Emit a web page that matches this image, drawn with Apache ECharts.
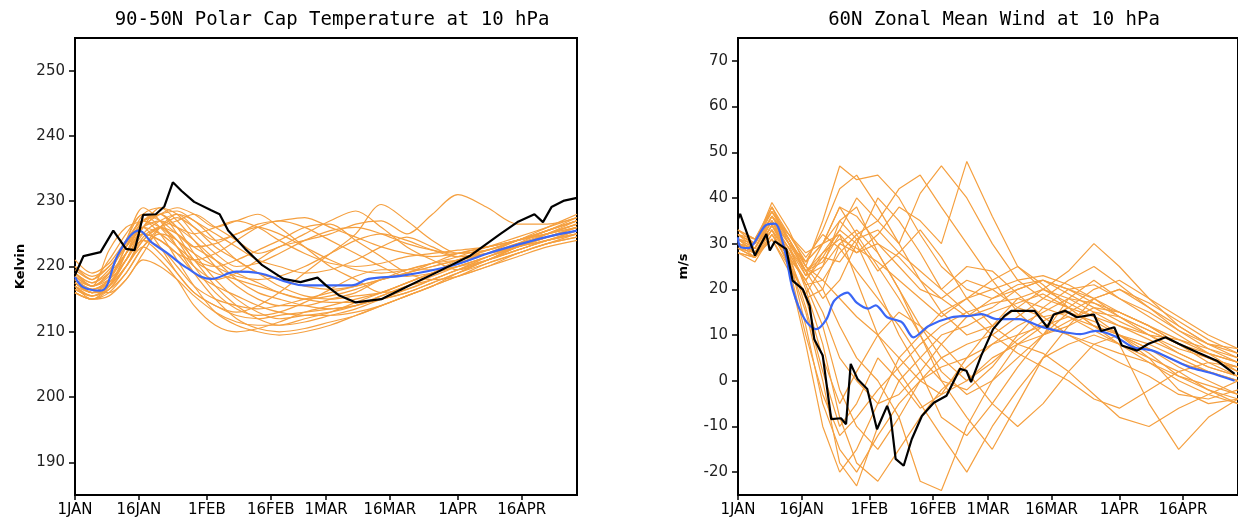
<!DOCTYPE html>
<html>
<head>
<meta charset="utf-8">
<script src="https://cdn.jsdelivr.net/npm/echarts@6/dist/echarts.min.js"></script>
<style>
  html, body { margin: 0; padding: 0; background: #fff; }
  #chart { width: 1238px; height: 527px; }
</style>
</head>
<body>
<div id="chart"></div>
<script>
// x axis: day of year starting at 1 JAN = 0
const dayTicks = [0, 15, 31, 46, 59, 74, 90, 105];
const dayTickLabels = ['1JAN', '16JAN', '1FEB', '16FEB', '1MAR', '16MAR', '1APR', '16APR'];
const tempTicks = [190, 200, 210, 220, 230, 240, 250];
const windTicks = [-20, -10, 0, 10, 20, 30, 40, 50, 60, 70];

// ensemble member sampling days (shared by both panels)
const memberDays = [0, 4, 8, 12, 16, 20, 24, 28, 33, 38, 43, 48, 54, 60, 66, 72, 78, 84, 90, 97, 104, 111, 118];

// 90-50N polar cap temperature, members (K)
const tempMembers = [
  [218, 216.5, 218, 223, 228, 229, 227, 224, 220, 217, 215, 214, 214, 215, 216, 218, 219, 220, 221, 222, 224, 225, 226.5],
  [217, 215.5, 217, 222, 227, 228, 226, 222, 218, 215, 213, 212, 212.5, 213, 214, 215.5, 217, 218, 219.5, 221, 222.5, 224, 225],
  [219, 217, 219, 224, 229, 227, 223, 219, 215, 212, 210.5, 210, 210.5, 211.5, 212.5, 214, 215.5, 217, 218.5, 220, 222, 223.5, 224.5],
  [216, 215, 216.5, 220, 224, 226, 227, 228, 226, 224, 222, 223, 225, 227, 228.5, 226, 223, 221, 219.5, 221, 223, 225, 227],
  [218.5, 217, 218, 221, 226, 228, 229, 228, 226, 227, 228, 226, 223, 220, 218, 216, 216.5, 218, 219.5, 221.5, 223.5, 225.5, 227],
  [217.5, 216, 217, 222, 226, 223, 219, 216, 214, 213, 214, 216, 219, 222, 225, 229.5, 227, 224, 222, 222.5, 224, 226, 228],
  [220, 218, 221, 225, 228, 226, 223, 220, 218, 219, 221, 223, 224, 225, 226.5, 227, 225, 228, 231, 229, 226.5, 226.5, 227.5],
  [216, 215, 216, 219, 223, 225, 224, 221, 217, 214, 212, 211, 211.5, 212.5, 213.5, 215, 216.5, 218, 219.5, 221, 223, 224.5, 226],
  [218, 216, 218, 223, 227, 228, 225, 221, 219, 218, 217, 216, 215, 214.5, 214.5, 215, 216, 217.5, 219, 220.5, 222, 223.5, 225],
  [219, 217.5, 219, 222, 225, 224, 222, 221, 222, 224, 226, 227, 226, 224, 222, 220, 218.5, 219, 220, 221.5, 223, 224.5, 226],
  [217, 216, 216, 218, 222, 226, 228, 227, 224, 221, 219, 217, 215.5, 215, 215.5, 216, 217.5, 219, 221, 222.5, 224, 225.5, 227],
  [221, 219, 220.5, 224, 227, 225, 221, 217, 213, 211, 210, 209.5, 210, 211, 212.5, 214, 215.5, 217, 219, 221, 223, 224, 225.5],
  [218, 216.5, 217.5, 221, 224, 222, 219, 216, 214, 212.5, 212, 212.5, 213, 213.5, 214, 215, 216, 217.5, 219, 221, 222.5, 224, 225],
  [217, 215, 217, 221, 225, 227, 228, 226, 223, 221, 219, 218, 217, 216.5, 217, 218, 219, 220, 221, 222.5, 224, 225.5, 227.5],
  [219.5, 218, 220, 223, 226, 225, 223, 221, 220, 221, 222.5, 224, 226, 226.5, 224, 221.5, 219, 218, 218.5, 220, 221.5, 223, 224],
  [216.5, 215.5, 217, 220, 223, 221, 218, 214, 211, 210, 210.5, 211.5, 213, 214, 215, 216, 217.5, 219, 220, 221.5, 223, 224, 225],
  [218, 217, 218.5, 222, 226, 228, 226, 224, 221, 218, 216, 215, 214, 213.5, 214, 215.5, 217, 218.5, 220, 221.5, 223, 225, 226.5],
  [217.5, 216, 217, 220, 224, 226, 225, 223, 221, 219, 217.5, 216, 215, 215.5, 216.5, 218, 219.5, 220.5, 221, 222, 223.5, 224.5, 225.5],
  [219, 217, 222.5, 226, 227, 228, 228.5, 227, 225, 223, 221, 220, 219, 219.5, 221, 223, 224.5, 223, 221.5, 222, 223, 224.5, 226],
  [218, 216, 217.5, 221, 224, 223, 220, 217, 215, 214, 213.5, 214, 215, 216, 217, 218, 219, 220.5, 222, 223, 224, 225, 226],
  [217, 215.5, 216.5, 219, 223, 226, 227.5, 226, 224, 225, 226.5, 227, 227.5, 226, 224.5, 223, 222, 221.5, 222, 223, 224, 225.5, 227],
  [218.5, 217, 219, 224, 228, 227, 225, 223, 223.5, 225, 226, 225, 223, 221, 219.5, 219, 219.5, 220.5, 221.5, 223, 224.5, 226, 227.5],
  [216, 215, 215.5, 218, 221, 220, 218, 215.5, 213, 211.5, 211, 211, 212, 213, 214.5, 216, 217.5, 219, 220.5, 222, 223, 224.5, 225.5],
  [219, 217.5, 219.5, 223, 226, 227, 226, 225, 226, 227, 226, 224, 222, 220.5, 220, 220.5, 221.5, 222, 222.5, 223, 224, 225, 226],
  [217.5, 216, 217, 221, 225, 224, 222, 219, 217, 215.5, 214, 213, 212.5, 212.5, 213, 214, 215.5, 217, 218.5, 220.5, 222, 223.5, 224.5],
  [218, 216.5, 218, 222, 226, 229, 228, 225, 222, 220, 220.5, 222, 224, 225.5, 226, 225, 223.5, 222.5, 222, 222.5, 224, 225.5, 227],
  [220, 218.5, 220, 223.5, 227, 226, 224, 222, 220, 218.5, 218, 218.5, 220, 222, 224, 225, 224, 222.5, 221.5, 222, 223.5, 225, 226.5],
  [216.5, 215.5, 216.5, 220, 224.5, 226, 224, 220, 216, 213.5, 212.5, 213, 214.5, 216.5, 218.5, 219.5, 219.5, 219.5, 220, 221, 222.5, 224, 225.5]
];

// observed temperature (black)
const tempObsDays = [0, 2, 6, 9, 12, 14, 15, 16, 19, 21, 23, 25, 28, 32, 34, 36, 40, 44, 49, 53, 57, 59, 62, 66, 72, 77, 85, 93, 100, 104, 108, 110, 112, 115, 118];
const tempObs = [218.7, 221.6, 222.2, 225.5, 222.7, 222.5, 225, 227.9, 228, 229.2, 232.9, 231.6, 229.9, 228.6, 228, 225.5, 222.7, 220.2, 218.1, 217.6, 218.3, 217.1, 215.6, 214.5, 215, 216.6, 219.1, 221.7, 225, 226.8, 228, 226.8, 229.1, 230.1, 230.5];

// ensemble mean temperature (blue)
const tempMeanDays = [0, 2, 6, 10, 13, 15, 18, 22, 26, 32, 38, 43, 50, 54, 60, 65, 69, 77, 89, 97, 105, 112, 118];
const tempMean = [218.4, 216.8, 216.3, 221.7, 224.7, 225.5, 223.7, 221.9, 219.9, 218.1, 219.2, 219, 217.6, 217.1, 217.1, 217.1, 218.1, 218.6, 220.2, 222, 223.5, 224.7, 225.5];

// 60N zonal mean wind, members (m/s)
const windMembers = [
  [30, 28, 35, 27, 12, -5, -15, -20, -12, -5, 0, 3, 5, 8, 10, 12, 14, 12, 10, 8, 5, 2, 0],
  [32, 30, 38, 30, 20, 8, -8, -18, -22, -15, -8, -2, 3, 8, 12, 15, 18, 17, 15, 12, 8, 4, 1],
  [29, 27, 33, 25, 10, -3, -12, -8, -2, 3, 8, 12, 15, 17, 18, 16, 14, 11, 8, 4, 0, -3, -5],
  [31, 29, 36, 32, 28, 30, 38, 36, 30, 25, 20, 18, 22, 20, 16, 14, 15, 13, 10, 7, 4, 2, 0],
  [33, 30, 39, 33, 25, 35, 47, 44, 45, 40, 32, 25, 20, 18, 20, 22, 19, 16, 13, 10, 7, 5, 3],
  [30, 28, 34, 28, 22, 15, 5, 0, -5, -3, 2, 8, 14, 18, 21, 22, 20, 18, 15, 12, 8, 5, 3],
  [28, 27, 32, 26, 15, 0, -18, -23, -10, 0, 5, 10, 12, 15, 17, 19, 16, 12, 8, 5, 2, -2, -4],
  [32, 31, 37, 31, 24, 28, 33, 40, 35, 30, 41, 47, 40, 30, 22, 18, 16, 14, 12, 10, 9, 7, 5],
  [30, 29, 35, 29, 23, 25, 30, 28, 32, 38, 35, 30, 48, 36, 25, 20, 18, 15, 12, 9, 6, 3, 1],
  [31, 28, 34, 27, 18, 5, -5, 2, 10, 15, 12, 8, 2, -5, -10, -5, 2, 8, 10, 7, 3, 0, -3],
  [29, 28, 33, 28, 21, 22, 28, 32, 25, 18, 10, 2, -3, 0, 5, 10, 15, 18, 20, 17, 13, 9, 6],
  [33, 31, 38, 32, 26, 30, 35, 38, 28, 20, 12, 5, 0, 4, 9, 13, 16, 20, 22, 18, 14, 10, 7],
  [30, 27, 31, 24, 8, -10, -20, -15, -5, 5, 10, 15, 18, 20, 22, 23, 21, 18, 14, 10, 6, 3, 1],
  [31, 30, 36, 30, 24, 26, 32, 22, 10, 2, -5, -12, -20, -10, -2, 5, 8, 10, 8, -5, -15, -8, -4],
  [28, 26, 32, 27, 22, 27, 33, 30, 20, 10, 2, -8, -12, -5, 3, 10, 18, 22, 18, 14, 10, 6, 2],
  [32, 30, 37, 31, 25, 20, 12, 5, 0, -8, -22, -24, -10, 0, 8, 12, 10, 8, 6, 4, 1, -1, -3],
  [29, 28, 34, 29, 21, 12, -2, -10, -15, -8, 0, 5, 8, 10, 14, 18, 22, 25, 21, 16, 11, 7, 4],
  [30, 29, 35, 30, 26, 33, 42, 45, 38, 30, 22, 15, 10, 12, 16, 20, 24, 30, 25, 18, 12, 8, 5],
  [31, 29, 36, 31, 24, 18, 22, 30, 40, 35, 28, 20, 15, 10, 6, 3, 0, -4, -6, -2, 2, 4, 3],
  [32, 30, 38, 31, 23, 30, 38, 32, 35, 42, 45, 38, 30, 22, 15, 10, 12, 18, 20, 16, 12, 8, 6],
  [30, 29, 36, 30, 26, 30, 32, 28, 30, 27, 22, 18, 14, 16, 20, 22, 20, 17, 14, 11, 8, 6, 4],
  [31, 28, 33, 27, 22, 28, 31, 29, 26, 22, 18, 14, 18, 22, 25, 21, 16, 12, 10, 5, -2, -5, -4],
  [29, 27, 32, 26, 18, 20, 30, 33, 28, 20, 10, 0, -8, -15, -5, 5, 12, 15, 14, 11, 8, 5, 2],
  [33, 31, 37, 32, 27, 32, 29, 24, 18, 12, 5, 0, -2, 3, 10, 16, 20, 21, 18, 15, 11, 8, 7],
  [30, 28, 34, 29, 24, 27, 26, 31, 33, 28, 24, 20, 25, 24, 19, 14, 10, 7, 4, 1, -3, -4, -2],
  [32, 29, 35, 28, 16, 2, -10, -5, 5, 0, -6, -3, 5, 12, 18, 20, 17, 14, 10, 6, 1, -2, -5],
  [28, 27, 31, 25, 19, 25, 35, 31, 24, 28, 33, 27, 18, 12, 8, 10, 13, 16, 15, 12, 9, 6, 4],
  [31, 30, 36, 31, 25, 22, 18, 14, 10, 5, 0, -3, 0, 5, 8, 6, 2, -3, -8, -10, -6, -3, 0]
];

// observed wind (black)
const windObsDays = [0, 0.5, 4, 6.7, 7.5, 8.7, 11.4, 12.9, 15.3, 16.9, 18, 20, 22, 24.3, 25.5, 26.6, 28.2, 30.5, 32.8, 35.2, 36, 37.2, 39.1, 41, 43.4, 46.2, 49.2, 52.4, 53.9, 55, 57.4, 60.2, 62.9, 64.5, 70, 73, 74.5, 77.2, 80, 84, 85.7, 88.8, 90.6, 94.2, 96.9, 100.9, 104, 108.5, 113, 117.2];
const windObs = [35.4, 36.5, 27.4, 32.1, 28.5, 30.5, 28.8, 21.9, 20, 16.4, 9.1, 5.5, -8.4, -8.2, -9.5, 3.7, 0.4, -1.8, -10.6, -5.5, -7.7, -17.1, -18.6, -12.8, -7.7, -4.8, -3.3, 2.6, 2.2, -0.3, 5.5, 11.3, 14.2, 15.3, 15.3, 11.7, 14.5, 15.3, 13.9, 14.5, 10.9, 11.7, 7.7, 6.6, 8.1, 9.5, 8.1, 6.2, 4.4, 1.5];

// ensemble mean wind (blue)
const windMeanDays = [0, 0.5, 2.3, 6.5, 8.7, 11, 12.9, 15.7, 18.4, 20.9, 22.7, 25.8, 28, 30.7, 32.5, 35.2, 38.7, 41.4, 45, 50.4, 54.8, 57.5, 61, 66.4, 71, 75.4, 80.8, 84.4, 88.8, 93.3, 97.8, 102.2, 106.7, 111.2, 117.2];
const windMean = [31.4, 29.3, 29, 34, 34.4, 28.6, 20, 13.5, 11.3, 13.5, 17.5, 19.3, 17.1, 15.8, 16.5, 13.9, 12.8, 9.5, 12, 13.9, 14.2, 14.6, 13.5, 13.5, 12, 10.9, 10.2, 10.9, 9.8, 7.3, 6.6, 4.8, 2.9, 1.8, 0];

const ORANGE = '#f5a040';
const BLUE = '#3a66f5';
const FONT = 'DejaVu Sans';
const TITLE_FONT = 'DejaVu Sans Mono';

function pairs(days, vals) {
  return days.map((d, i) => [d, vals[i]]);
}

function memberSeries(list, idx, smooth) {
  return list.map(vals => ({
    type: 'line',
    xAxisIndex: idx,
    yAxisIndex: idx,
    data: pairs(memberDays, vals),
    symbol: 'none',
    smooth: smooth,
    silent: true,
    lineStyle: {color: ORANGE, width: 1.2}
  }));
}

function mainLine(days, vals, idx, color, smooth) {
  return {
    type: 'line',
    xAxisIndex: idx,
    yAxisIndex: idx,
    data: pairs(days, vals),
    symbol: 'none',
    smooth: smooth,
    silent: true,
    z: 5,
    lineStyle: {color: color, width: 2.2}
  };
}

function xAxisFor(idx) {
  return {
    type: 'value',
    gridIndex: idx,
    min: 0,
    max: 118,
    axisLine: {show: true, onZero: false, lineStyle: {color: '#000', width: 2}},
    axisTick: {show: true, length: 5, customValues: dayTicks, lineStyle: {color: '#000', width: 1.5}},
    axisLabel: {
      customValues: dayTicks,
      margin: 8,
      color: '#000',
      fontFamily: FONT,
      fontSize: 15,
      formatter: v => dayTickLabels[dayTicks.indexOf(v)] || ''
    },
    splitLine: {show: false}
  };
}

function yAxisFor(idx, min, max, ticks, name, gap) {
  return {
    type: 'value',
    gridIndex: idx,
    min: min,
    max: max,
    name: name,
    nameLocation: 'middle',
    nameGap: gap,
    nameRotate: 90,
    nameTextStyle: {color: '#000', fontFamily: FONT, fontSize: 13, fontWeight: 'bold'},
    axisLine: {show: true, onZero: false, lineStyle: {color: '#000', width: 2}},
    axisTick: {show: true, length: 6, customValues: ticks, lineStyle: {color: '#000', width: 1.5}},
    axisLabel: {customValues: ticks, margin: 10, color: '#222', fontFamily: FONT, fontSize: 15},
    splitLine: {show: false}
  };
}

const chart = echarts.init(document.getElementById('chart'), null, {renderer: 'canvas'});

chart.setOption({
  animation: false,
  backgroundColor: '#fff',
  title: [
    {text: '90-50N Polar Cap Temperature at 10 hPa', left: 327, top: 6, textAlign: 'center',
      textStyle: {color: '#000', fontFamily: TITLE_FONT, fontSize: 19, fontWeight: 'normal'}},
    {text: '60N Zonal Mean Wind at 10 hPa', left: 989, top: 6, textAlign: 'center',
      textStyle: {color: '#000', fontFamily: TITLE_FONT, fontSize: 19, fontWeight: 'normal'}}
  ],
  grid: [
    {left: 75, top: 38, width: 502, height: 457, show: true, borderColor: '#000', borderWidth: 2, backgroundColor: '#fff'},
    {left: 738, top: 38, width: 502, height: 457, show: true, borderColor: '#000', borderWidth: 2, backgroundColor: '#fff'}
  ],
  xAxis: [xAxisFor(0), xAxisFor(1)],
  yAxis: [
    yAxisFor(0, 185, 255, tempTicks, 'Kelvin', 48),
    yAxisFor(1, -25, 75, windTicks, 'm/s', 48)
  ],
  series: [
    ...memberSeries(tempMembers, 0, 0.3),
    mainLine(tempMeanDays, tempMean, 0, BLUE, 0.4),
    mainLine(tempObsDays, tempObs, 0, '#000', false),
    ...memberSeries(windMembers, 1, false),
    mainLine(windMeanDays, windMean, 1, BLUE, 0.3),
    mainLine(windObsDays, windObs, 1, '#000', false)
  ]
});
</script>
</body>
</html>
